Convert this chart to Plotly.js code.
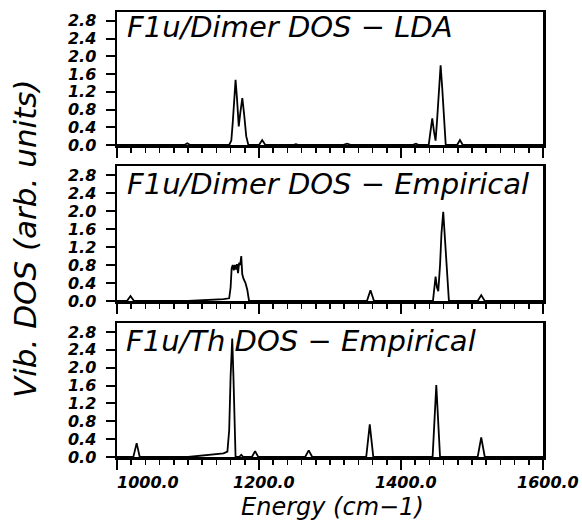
<!DOCTYPE html>
<html>
<head>
<meta charset="utf-8">
<script src="https://cdn.plot.ly/plotly-3.0.1.min.js"></script>
<style>body{margin:0;padding:0;background:#fff}#chart{width:582px;height:520px}</style>
</head>
<body>
<div id="chart"></div>
<script>
// Panel 1: F1u/Dimer DOS - LDA
const lda_x = [1000,1095,1099,1103,1158,1161,1163,1165,1167,1169,1171.5,1173.5,1176.5,1179,1182,1185,1200,1204.5,1209,1248,1252,1256,1318,1324,1330,1416,1421,1425,1439,1441.5,1444,1446.5,1448.7,1451,1453.5,1455.8,1458,1460.5,1463,1479,1483,1487,1600];
const lda_y = [0,0,0.04,0,0,0.1,0.5,1.1,1.47,1.05,0.42,0.7,1.06,0.7,0.2,0,0,0.11,0,0,0.02,0,0,0.03,0,0,0.03,0,0,0.3,0.6,0.3,0.1,0.6,1.35,1.8,1.3,0.5,0,0,0.11,0,0];
// Panel 2: F1u/Dimer DOS - Empirical
const emp_x = [1000,1014,1019,1024,1100,1130,1150,1158,1160,1161.5,1163,1164.5,1166,1167.5,1169,1170.5,1172,1173.5,1175,1176.4,1178,1181,1183.5,1186,1352,1357,1362,1445,1447,1448.7,1450.7,1452.5,1455,1457,1459.5,1462,1465,1467.5,1508,1513,1518,1600];
const emp_y = [0,0,0.11,0,0,0.02,0.04,0.06,0.3,0.73,0.8,0.68,0.8,0.7,0.82,0.62,0.85,0.8,1.0,0.6,0.5,0.4,0.25,0,0,0.24,0,0,0.3,0.54,0.3,0.22,0.8,1.5,1.98,1.4,0.5,0,0,0.13,0,0];
// Panel 3: F1u/Th DOS - Empirical
const th_x = [1000,1023,1027.7,1032,1100,1130,1150,1155.5,1158,1160,1162.3,1164,1165.5,1167,1172,1175,1178,1190,1194.5,1199,1265,1270,1275,1351,1356,1361,1444.5,1449.7,1455,1508,1513,1518,1600];
const th_y = [0,0,0.31,0,0,0.04,0.08,0.12,0.6,1.8,2.65,1.8,0.6,0,0,0.05,0,0,0.13,0,0,0.15,0,0,0.73,0,0,1.61,0,0,0.44,0,0];

const panelTitles = ["F1u/Dimer DOS \u2212 LDA", "F1u/Dimer DOS \u2212 Empirical", "F1u/Th DOS \u2212 Empirical"];
const xTicks = [1000, 1200, 1400, 1600];
const yTicks = [0, 0.4, 0.8, 1.2, 1.6, 2.0, 2.4, 2.8];
const xLabel = "Energy (cm\u22121)";
const yLabel = "Vib. DOS (arb. units)";

const FONT = "DejaVu Sans, sans-serif";
const line = {color: "#000", width: 1.8};

const traces = [
  {x: th_x, y: th_y, xaxis: "x", yaxis: "y", mode: "lines", line: line, hoverinfo: "skip"},
  {x: emp_x, y: emp_y, xaxis: "x2", yaxis: "y2", mode: "lines", line: line, hoverinfo: "skip"},
  {x: lda_x, y: lda_y, xaxis: "x3", yaxis: "y3", mode: "lines", line: line, hoverinfo: "skip"}
];

function xax(anchor) {
  return {
    anchor: anchor, range: [1000, 1600], tickvals: xTicks, tickformat: ".1f",
    showticklabels: false, ticks: "outside", ticklen: 10, tickwidth: 2, tickcolor: "#000",
    minor: {dtick: 20, tick0: 1000, ticks: "outside", ticklen: 5, tickwidth: 1.5, tickcolor: "#000", showgrid: false},
    showline: true, linecolor: "#000", linewidth: 2.5, mirror: true,
    showgrid: false, zeroline: false
  };
}
function yax(anchor, domain) {
  return {
    anchor: anchor, domain: domain, range: [0, 3.0], tickvals: yTicks, tickformat: ".1f",
    ticks: "outside", ticklen: 9, tickwidth: 2, tickcolor: "#000",
    showline: true, linecolor: "#000", linewidth: 2.5, mirror: true,
    showgrid: false, zeroline: false, ticklabelstandoff: 6,
    tickfont: {family: FONT, size: 16, color: "#000", style: "italic", weight: "bold"}
  };
}

const L = 117, R = 39, T = 12, B = 63, W = 582, H = 520;
const pw = W - L - R, ph = H - T - B;
const px = v => (v - L) / pw;
const py = v => (H - B - v) / ph;

const titleFont = {family: FONT, size: 29, color: "#000", style: "italic"};
const annotations = [
  {text: panelTitles[0], xref: "paper", yref: "paper", x: px(125), y: py(27), xanchor: "left", yanchor: "middle", showarrow: false, font: titleFont},
  {text: panelTitles[1], xref: "paper", yref: "paper", x: px(125), y: py(184.5), xanchor: "left", yanchor: "middle", showarrow: false, font: titleFont},
  {text: panelTitles[2], xref: "paper", yref: "paper", x: px(124), y: py(341), xanchor: "left", yanchor: "middle", showarrow: false, font: titleFont},
  {text: yLabel, xref: "paper", yref: "paper", x: px(25), y: py(239), xanchor: "center", yanchor: "middle", textangle: -90, showarrow: false, font: {family: FONT, size: 31, color: "#000", style: "italic"}},
  {text: xLabel, xref: "paper", yref: "paper", x: px(332), y: py(507), xanchor: "center", yanchor: "middle", showarrow: false, font: {family: FONT, size: 24, color: "#000", style: "italic"}}
];
// x tick labels of the bottom axis, placed at their data positions
xTicks.forEach((v, i) => {
  annotations.push({
    text: v.toFixed(1), xref: "x", yref: "paper", x: v, y: py(482.5),
    xanchor: i === 0 ? "left" : "center", xshift: i === 0 ? -2 : 5, yanchor: "middle", showarrow: false,
    font: {family: FONT, size: 16, color: "#000", style: "italic", weight: "bold"}
  });
});

const layout = {
  width: W, height: H,
  margin: {l: L, r: R, t: T, b: B},
  paper_bgcolor: "#fff", plot_bgcolor: "#fff",
  showlegend: false,
  xaxis: xax("y"),
  xaxis2: xax("y2"),
  xaxis3: xax("y3"),
  yaxis: yax("x", [0, py(323)]),
  yaxis2: yax("x2", [py(301), py(166)]),
  yaxis3: yax("x3", [py(145), 1]),
  annotations: annotations
};

Plotly.newPlot("chart", traces, layout, {staticPlot: true, displayModeBar: false});
</script>
</body>
</html>
